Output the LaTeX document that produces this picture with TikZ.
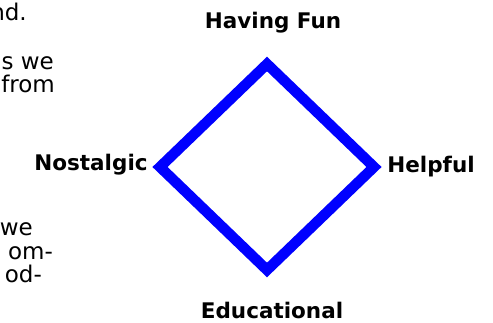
\documentclass[tikz,border=0pt]{standalone}
\usepackage{fontspec}
\setmainfont{DejaVu Sans}
\begin{document}
\begin{tikzpicture}[x=1pt,y=1pt,
  body/.style={anchor=base east,inner sep=0pt,font=\fontsize{23}{27}\selectfont},
  lab/.style={inner sep=0pt,font=\bfseries\fontsize{21.5}{25}\selectfont},
  edge/.style={draw=blue,line width=10.5pt,line join=miter}]
\useasboundingbox (0,0) rectangle (493,323);
\clip (0,0) rectangle (493,323);
% clipped body text fragments (y = 323 - px)
\node[body] (t1) at (27,302) {nd.};
\node[body] (t2) at (54,253) {s we};
\node[body] (t3) at (55,230) {from};
\node[body] (t4) at (33,87) {we};
\node[body] (t5) at (53,63) {om-};
\node[body] (t6) at (42,40) {od-};
% diamond corners
\coordinate (top) at (267,259);
\coordinate (rgt) at (374,156);
\coordinate (bot) at (267,53);
\coordinate (lft) at (160,156);
\draw[edge] (top) -- (rgt) -- (bot) -- (lft) -- cycle;
% labels
\node[lab] (fun) at (273,300) {Having Fun};
\node[lab] (help) at (431,156) {Helpful};
\node[lab] (nos) at (91,158) {Nostalgic};
\node[lab] (edu) at (272,13) {Educational};
\end{tikzpicture}
\end{document}
